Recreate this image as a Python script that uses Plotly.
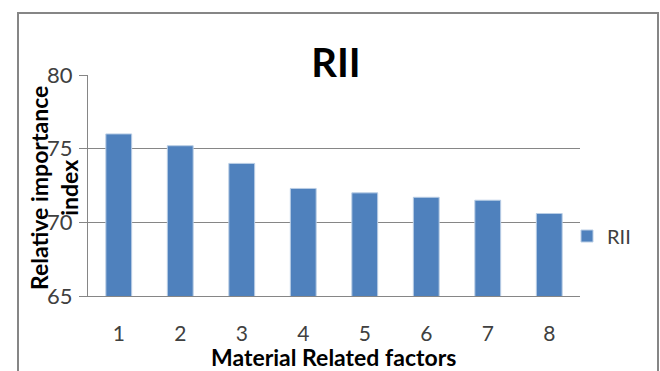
import plotly.graph_objects as go

categories = ["1", "2", "3", "4", "5", "6", "7", "8"]
rii_values = [76.0, 75.2, 74.0, 72.3, 72.0, 71.7, 71.5, 70.6]
y_ticks = [65, 70, 75, 80]
series_name = "RII"

L, R, T, B = 88, 80, 75, 75
W, H = 660, 371
pw = W - L - R
ph = H - T - B

def px_x(x):
    return (x - L) / pw

def px_y(y):
    return (H - B - y) / ph

FONT = "Lato"

fig = go.Figure()
fig.add_trace(go.Bar(
    x=categories, y=rii_values, name=series_name,
    marker=dict(color="#4F81BD", line=dict(color="#B9CDE5", width=1)),
))

fig.update_layout(
    width=W, height=H,
    margin=dict(l=L, r=R, t=T, b=B, autoexpand=False),
    paper_bgcolor="white", plot_bgcolor="white",
    bargap=0.58,
    showlegend=True,
    legend=dict(x=px_x(567), y=px_y(236), xanchor="left", yanchor="middle",
                font=dict(family=FONT, size=20, color="#404040"),
                bgcolor="rgba(0,0,0,0)"),
    title=dict(text="<b>RII</b>", x=px_x(336), xref="paper", xanchor="center",
               y=1 - 63 / H, yanchor="middle",
               font=dict(family=FONT, size=40, color="black")),
    font=dict(family=FONT),
)

fig.update_xaxes(
    type="category", showline=True, linecolor="#868686", linewidth=1,
    ticks="", showgrid=False,
    tickfont=dict(family=FONT, size=21, color="#404040"),
    ticklabelstandoff=19,
)
fig.update_yaxes(
    range=[65, 80], tickvals=y_ticks, showline=True, linecolor="#868686",
    linewidth=1, ticks="outside", ticklen=8, tickcolor="#868686",
    showgrid=True, gridcolor="#868686", gridwidth=1, zeroline=False,
    tickfont=dict(family=FONT, size=22, color="#404040"),
    ticklabelstandoff=2,
)

fig.add_annotation(
    text="<b>Relative importance<br>index</b>", textangle=-90,
    xref="paper", yref="paper", x=px_x(54), y=px_y(188),
    xanchor="center", yanchor="middle", showarrow=False,
    font=dict(family=FONT, size=23, color="black"),
)
fig.add_annotation(
    text="<b>Material Related factors</b>",
    xref="paper", yref="paper", x=px_x(333), y=px_y(357),
    xanchor="center", yanchor="middle", showarrow=False,
    font=dict(family=FONT, size=23, color="black"),
)

fig.add_shape(
    type="rect", xref="paper", yref="paper",
    x0=px_x(18), x1=px_x(658), y0=px_y(420), y1=px_y(13),
    line=dict(color="#868686", width=2), fillcolor="rgba(0,0,0,0)",
    layer="below",
)

fig.write_html(
    "out.html",
    config={"displayModeBar": False},
    post_script="document.body.style.margin='0';document.body.style.overflow='hidden';",
)
